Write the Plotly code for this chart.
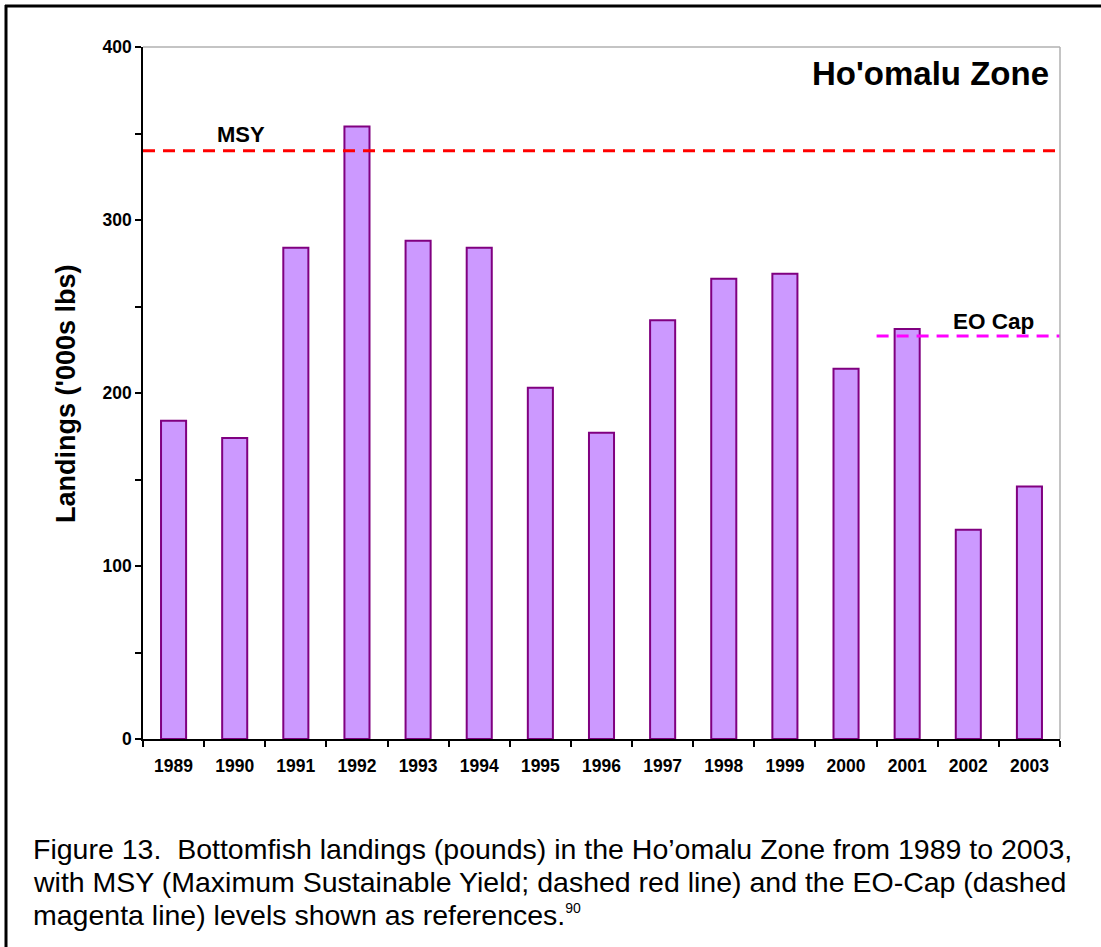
import plotly.graph_objects as go

years = ["1989", "1990", "1991", "1992", "1993", "1994", "1995", "1996",
         "1997", "1998", "1999", "2000", "2001", "2002", "2003"]
landings = [184, 174, 284, 354, 288, 284, 203, 177, 242, 266, 269, 214, 237, 121, 146]
MSY = 340
EO_CAP = 233
EO_CAP_START = "2001"

W, H = 1101, 947
L, R, T, B = 143, 41, 47, 208
PW, PH = W - L - R, H - T - B


def px_x(p):
    return (p - L) / PW


def px_y(p):
    return (H - B - p) / PH


fig = go.Figure()
fig.add_trace(go.Bar(
    x=years, y=landings,
    marker=dict(color="#CC99FF", line=dict(color="#800080", width=2)),
    showlegend=False,
))

font_family = "Liberation Sans, Arial, sans-serif"

idx = years.index(EO_CAP_START)
shapes = [
    # MSY line across full width
    dict(type="line", xref="paper", yref="y", x0=0, x1=1, y0=MSY, y1=MSY,
         line=dict(color="#FF0000", width=3, dash="12px,8px")),
    # EO Cap line
    dict(type="line", xref="x", yref="y", x0=idx - 0.5, x1=len(years) - 0.5,
         y0=EO_CAP, y1=EO_CAP,
         line=dict(color="#FF00FF", width=3, dash="12px,8px")),
    # plot-area top and right gray border
    dict(type="line", xref="paper", yref="paper", x0=0, x1=1, y0=1, y1=1,
         line=dict(color="#B0B0B0", width=1.5)),
    dict(type="line", xref="paper", yref="paper", x0=1, x1=1, y0=0, y1=1,
         line=dict(color="#B0B0B0", width=1.5)),
    # outer frame (top and left)
    dict(type="line", xref="paper", yref="paper", x0=px_x(5), x1=px_x(1110),
         y0=px_y(6), y1=px_y(6), line=dict(color="black", width=3)),
    dict(type="line", xref="paper", yref="paper", x0=px_x(6), x1=px_x(6),
         y0=px_y(5), y1=px_y(960), line=dict(color="black", width=3)),
]

annotations = [
    dict(text="<b>Ho'omalu Zone</b>", xref="paper", yref="paper",
         x=px_x(1051), y=px_y(74), xanchor="right", yanchor="middle",
         showarrow=False, font=dict(size=33, color="black", family=font_family)),
    dict(text="<b>MSY</b>", xref="paper", yref="paper",
         x=px_x(241), y=px_y(134), xanchor="center", yanchor="middle",
         showarrow=False, font=dict(size=22, color="black", family=font_family)),
    dict(text="<b>EO Cap</b>", xref="paper", yref="paper",
         x=px_x(993), y=px_y(321), xanchor="center", yanchor="middle",
         showarrow=False, font=dict(size=22.5, color="black", family=font_family)),
    dict(text="<b>Landings ('000s lbs)</b>", xref="paper", yref="paper",
         x=px_x(66), y=px_y(394), xanchor="center", yanchor="middle",
         textangle=-90, showarrow=False,
         font=dict(size=27, color="black", family=font_family)),
]

caption_lines = [
    "Figure 13.  Bottomfish landings (pounds) in the Ho\u2019omalu Zone from 1989 to 2003,",
    "with MSY (Maximum Sustainable Yield; dashed red line) and the EO-Cap (dashed",
    "magenta line) levels shown as references.<sup><span style='font-size:14px'>90</span></sup>",
]
caption_y = [849, 882, 915]
for line, yy in zip(caption_lines, caption_y):
    annotations.append(dict(
        text=line, xref="paper", yref="paper", x=px_x(31), y=px_y(yy),
        xanchor="left", yanchor="middle", showarrow=False,
        font=dict(size=28.5, color="black", family=font_family)))

fig.update_layout(
    width=W, height=H,
    margin=dict(l=L, r=R, t=T, b=B, autoexpand=False),
    paper_bgcolor="white", plot_bgcolor="white",
    bargap=0.59,
    shapes=shapes, annotations=annotations,
    font=dict(family=font_family, color="black"),
    xaxis=dict(
        type="category", showgrid=False, showline=True, linecolor="black",
        linewidth=1.5, ticks="outside", tickson="boundaries", ticklen=6,
        tickcolor="black", tickwidth=1.5, ticklabelstandoff=10,
        tickfont=dict(size=17.5, family=font_family, weight="bold"),
        range=[-0.5, len(years) - 0.5],
    ),
    yaxis=dict(
        range=[0, 400], showgrid=False, zeroline=False, showline=True,
        linecolor="black", linewidth=1.5, ticks="outside", ticklen=6,
        tickcolor="black", tickwidth=1.5, dtick=100,
        tickfont=dict(size=17.5, family=font_family, weight="bold"),
        minor=dict(dtick=50, ticks="outside", ticklen=6, tickcolor="black",
                   tickwidth=1.5, showgrid=False),
    ),
)

fig.write_html("out.html", config={"displayModeBar": False},
               post_script="document.body.style.margin='0';")
